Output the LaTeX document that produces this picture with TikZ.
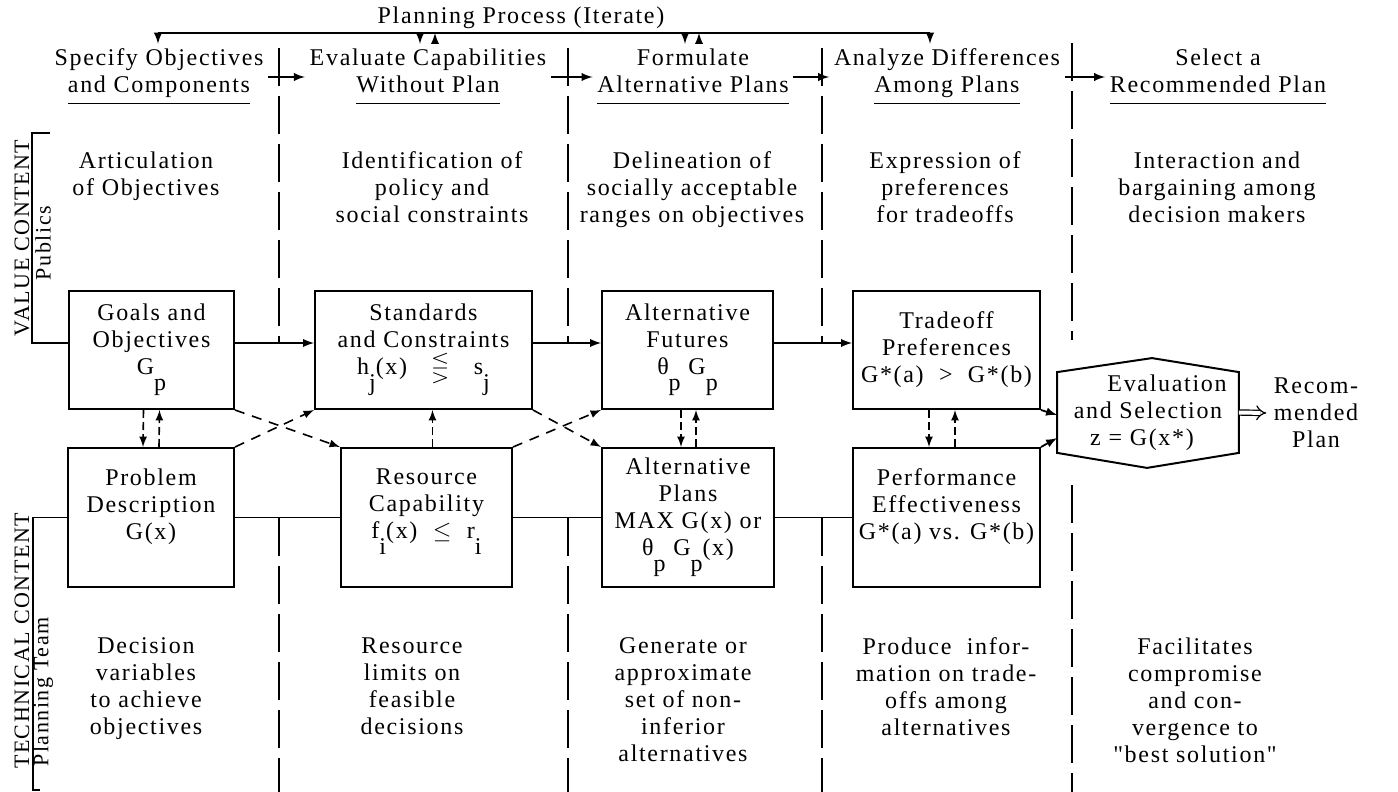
\documentclass[tikz,border=0pt]{standalone}
\usepackage{amsmath}
\usepackage{amssymb}
\usepackage{fontspec}
\setmainfont{Liberation Serif}[Ligatures=TeXOff, LetterSpace=7]
\usepackage{tikz}
\usetikzlibrary{arrows.meta}

\newcommand{\lowr}[1]{\raisebox{-0.65em}{#1}}

\begin{document}
\begin{tikzpicture}[x=0.5pt, y=-0.5pt, line width=0.9pt,
        every node/.style={font=\fontsize{12}{13.5}\selectfont},
        box/.style={draw, line width=1pt, inner sep=0pt, align=center, minimum height=59pt},
        lowbox/.style={box, minimum height=69.5pt},
        side/.style={rotate=90, font=\fontsize{11}{13.5}\selectfont},
        sep/.style={dash pattern=on 19pt off 5pt, line width=0.8pt},
        cross/.style={dash pattern=on 5pt off 4pt, line width=0.8pt, -latex},
        link/.style={dash pattern=on 4pt off 2pt, line width=0.8pt, -latex}]
        \useasboundingbox (0,0) rectangle (1398,792);

        \node (title) at (521,18) {Planning Process (Iterate)};
        \node[align=center, inner sep=2pt] (hd1) at (159,77) {Specify Objectives\\\underline{\strut and Components}};
        \node[align=center, inner sep=2pt] (hd2) at (428,77) {Evaluate Capabilities\\\underline{\strut Without Plan}};
        \node[align=center, inner sep=2pt] (hd3) at (693,77) {Formulate\\\underline{\strut Alternative Plans}};
        \node[align=center, inner sep=2pt] (hd4) at (947,77) {Analyze Differences\\\underline{\strut Among Plans}};
        \node[align=center, inner sep=2pt] (hd5) at (1218,77) {Select a\\\underline{\strut Recommended Plan}};

        \coordinate (p1) at (158,33);
        \coordinate (p2) at (420,33);
        \coordinate (p3) at (435,33);
        \coordinate (p4) at (685,33);
        \coordinate (p5) at (699,33);
        \coordinate (p6) at (930,33);
        \draw (p1) -- (p6);
        \draw[-latex] (p1) -- (p1 |- hd1.north);
        \draw[-latex] (p2) -- (p2 |- hd2.north);
        \draw[latex-] (p3) -- (p3 |- hd2.north);
        \draw[-latex] (p4) -- (p4 |- hd3.north);
        \draw[latex-] (p5) -- (p5 |- hd3.north);
        \draw[-latex] (p6) -- (p6 |- hd4.north);

        \draw[sep] (279,48) -- (279,343);
        \draw[sep] (279,518) -- (279,792);
        \draw[sep] (568,48) -- (568,343);
        \draw[sep] (568,518) -- (568,792);
        \draw[sep] (822,48) -- (822,343);
        \draw[sep] (822,518) -- (822,792);
        \draw[sep] (1072,43) -- (1072,340);
        \draw[sep] (1072,485) -- (1072,792);

        \draw[-latex] (hd1.east) -- (hd2.west);
        \draw[-latex] (hd2.east) -- (hd3.west);
        \draw[-latex] (hd3.east) -- (hd4.west);
        \draw[-latex] (hd4.east) -- (hd5.west);

        \node[anchor=north, align=center] (d1) at (146,144) {Articulation\\of Objectives};
        \node[anchor=north, align=center] (d2) at (432,144) {Identification of\\policy and\\social constraints};
        \node[anchor=north, align=center] (d3) at (692,144) {Delineation of\\socially acceptable\\ranges on objectives};
        \node[anchor=north, align=center] (d4) at (945,144) {Expression of\\preferences\\for tradeoffs};
        \node[anchor=north, align=center] (d5) at (1217,144) {Interaction and\\bargaining among\\decision makers};

        \node[box, minimum width=82.5pt] (goals) at (151.5,350) {Goals and\\Objectives\\G\lowr{p}};
        \node[box, minimum width=108.5pt] (stds) at (423.5,350) {Standards\\and Constraints\\h\lowr{j}(x)\quad$\lesseqgtr$\quad s\lowr{j}};
        \node[box, minimum width=85.5pt] (futs) at (687.5,350) {Alternative\\Futures\\θ\lowr{p} G\lowr{p}};
        \node[box, minimum width=93.5pt] (trade) at (946.5,350) {Tradeoff\\Preferences\\G*(a)~ > ~G*(b)};
        \node[lowbox, minimum width=83pt] (prob) at (151,517.5) {Problem\\Description\\G(x)\\~};
        \node[lowbox, minimum width=85.5pt] (res) at (426.5,517.5) {Resource\\Capability\\f\lowr{i}(x)~~$\leq$~~r\lowr{i}\\~};
        \node[lowbox, minimum width=86pt] (plans) at (688,517.5) {Alternative\\Plans\\MAX G(x) or\\θ\lowr{p} G\lowr{p}(x)};
        \node[lowbox, minimum width=93.5pt] (perf) at (946.5,517.5) {Performance\\Effectiveness\\G*(a) vs. G*(b)\\~};

        \draw[-latex] ([yshift=3.5pt]goals.east) -- ([yshift=3.5pt]stds.west);
        \draw[-latex] ([yshift=3.5pt]stds.east) -- ([yshift=3.5pt]futs.west);
        \draw[-latex] ([yshift=3.5pt]futs.east) -- ([yshift=3.5pt]trade.west);
        \draw (prob) -- (res);
        \draw (res) -- (plans);
        \draw (plans) -- (perf);

        \draw[cross] (goals.south east) -- (res.north west);
        \draw[cross] (prob.north east) -- (stds.south west);
        \draw[cross] (stds.south east) -- (plans.north west);
        \draw[cross] (res.north east) -- (futs.south west);

        \draw[link] ([xshift=-4pt]goals.south) -- ([xshift=-4pt]prob.north);
        \draw[link] ([xshift=4pt]prob.north) -- ([xshift=4pt]goals.south);
        \draw[link] ([xshift=3pt]res.north) -- ([xshift=4.5pt]stds.south);
        \draw[link] ([xshift=-3.25pt]futs.south) -- ([xshift=-3.5pt]plans.north);
        \draw[link] ([xshift=4pt]plans.north) -- ([xshift=4.25pt]futs.south);
        \draw[link] ([xshift=-8.75pt]trade.south) -- ([xshift=-8.75pt]perf.north);
        \draw[link] ([xshift=4.25pt]perf.north) -- ([xshift=4.25pt]trade.south);

        \node[align=center, inner sep=0pt, minimum width=90pt, minimum height=39.5pt] (eval) at (1148,412.5) {\hspace*{19pt}Evaluation\\and Selection\\z = G(x*)\hspace*{6pt}};
        \draw[line width=1pt] (eval.north west) -- ([xshift=2pt, yshift=7pt]eval.north) -- (eval.north east) -- (eval.south east) -- ([xshift=-0.5pt, yshift=-7.5pt]eval.south) -- (eval.south west) -- cycle;
        \node[align=center] (rec) at (1316,413) {Recom-\\mended\\Plan};
        \draw[-latex] (trade.south east) -- ([yshift=-1.25pt]eval.west);
        \draw[-latex] (perf.north east) -- ([yshift=-12.75pt]eval.west);
        \draw[double, double distance=2pt, line width=0.6pt, -{Implies}] (eval.east) -- (rec.west);

        \node[anchor=north, align=center] (b1) at (146,630) {Decision\\variables\\to achieve\\objectives};
        \node[anchor=north, align=center] (b2) at (412,630) {Resource\\limits on\\feasible\\decisions};
        \node[anchor=north, align=center] (b3) at (683,630) {Generate or\\approximate\\set of non-\\inferior\\alternatives};
        \node[anchor=north, align=center] (b4) at (946,630) {Produce~~infor-\\mation on trade-\\offs among\\alternatives};
        \node[anchor=north, align=center] (b5) at (1195,630) {Facilitates\\compromise\\and con-\\vergence to\\"best solution"};

        \node[side] (vc) at (22,238) {VALUE CONTENT};
        \node[side] (pub) at (43,243) {Publics};
        \draw ([yshift=3.5pt]goals.west) -| (32,133) -- (50,133);
        \node[side] (tc) at (22,641) {TECHNICAL CONTENT};
        \node[side] (team) at (43,692) {Planning Team};
        \draw (prob.west) -| (33,790) -- (40,790);
    \end{tikzpicture}
\end{document}
